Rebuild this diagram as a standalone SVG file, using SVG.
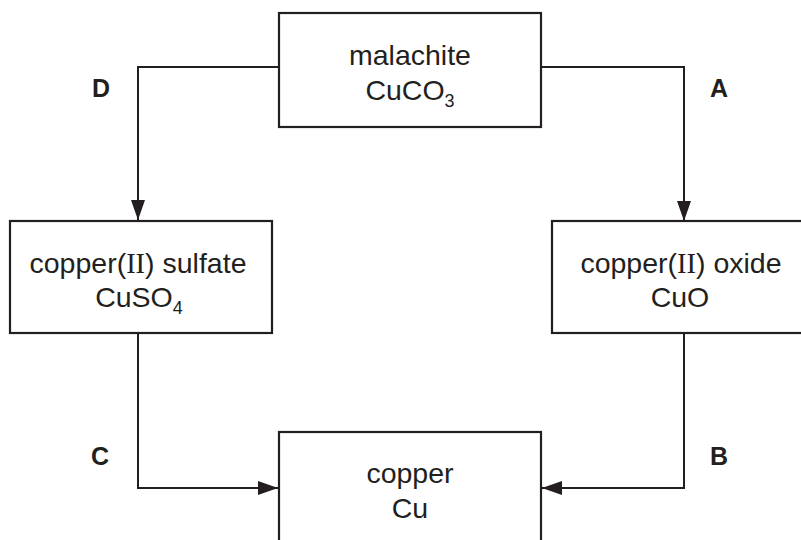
<svg xmlns="http://www.w3.org/2000/svg" width="801" height="540" viewBox="0 0 801 540">
<style>
.box{fill:#fff;stroke:#231f20;stroke-width:2.2}
.ln{fill:none;stroke:#231f20;stroke-width:2}
.t{font-family:"Liberation Sans",Arial,sans-serif;font-size:28.5px;fill:#231f20;text-anchor:middle}
.r{font-family:"Liberation Serif","Times New Roman",serif}
.sub{font-size:18px}
.lab{font-family:"Liberation Sans",Arial,sans-serif;font-size:25px;font-weight:bold;fill:#231f20;text-anchor:middle}
</style>
<defs>
<marker id="ah" markerUnits="userSpaceOnUse" markerWidth="22" markerHeight="14" refX="20" refY="7" orient="auto">
<path d="M0,0 L20,7 L0,14 Z" fill="#231f20"/>
</marker>
</defs>
<rect width="801" height="540" fill="#fff"/>
<g id="connectors">
<path class="ln" d="M279,67 H138 V220" marker-end="url(#ah)"/>
<path class="ln" d="M541,67 H684 V221" marker-end="url(#ah)"/>
<path class="ln" d="M138,333 V488 H278" marker-end="url(#ah)"/>
<path class="ln" d="M684,333 V488 H542" marker-end="url(#ah)"/>
</g>
<g id="malachite">
<rect class="box" x="279" y="13" width="262" height="114"/>
<text class="t" x="410" y="65">malachite</text>
<text class="t" x="410" y="100">CuCO<tspan class="sub" dy="7">3</tspan></text>
</g>
<g id="sulfate">
<rect class="box" x="10" y="221" width="262" height="112"/>
<text class="t" x="138" y="273">copper(<tspan class="r">II</tspan>) sulfate</text>
<text class="t" x="139" y="307">CuSO<tspan class="sub" dy="7">4</tspan></text>
</g>
<g id="oxide">
<rect class="box" x="552" y="221" width="262" height="112"/>
<text class="t" x="681" y="273">copper(<tspan class="r">II</tspan>) oxide</text>
<text class="t" x="680" y="307">CuO</text>
</g>
<g id="copper">
<rect class="box" x="279" y="432" width="262" height="130"/>
<text class="t" x="410" y="483">copper</text>
<text class="t" x="410" y="518">Cu</text>
</g>
<g id="labels">
<text class="lab" x="101" y="97">D</text>
<text class="lab" x="719" y="97">A</text>
<text class="lab" x="100" y="465">C</text>
<text class="lab" x="719" y="465">B</text>
</g>
</svg>
